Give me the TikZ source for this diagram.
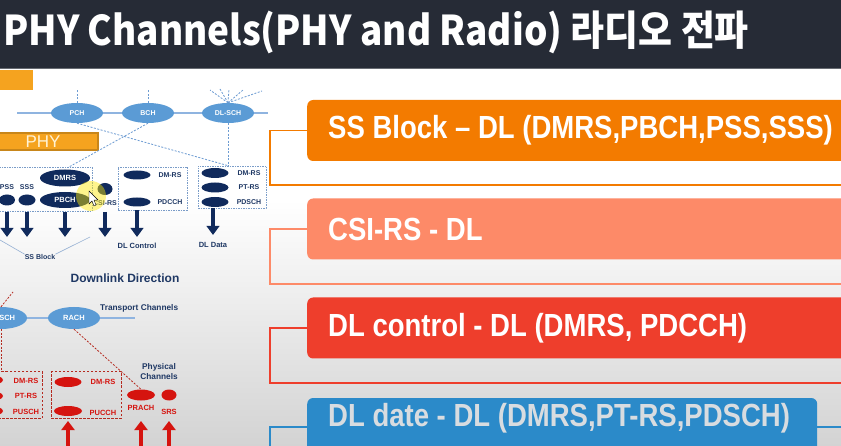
\documentclass[tikz,border=0pt]{standalone}
\usepackage{fontspec}
\setmainfont{Liberation Sans}
\newfontfamily\krfont{Noto Sans CJK KR}
\usetikzlibrary{shapes.geometric,arrows.meta}
\definecolor{hdr}{HTML}{262B36}
\definecolor{bgbot}{HTML}{D3D3D3}
\definecolor{phyor}{HTML}{F5A31F}
\definecolor{phyline}{HTML}{C8861A}
\definecolor{phytxt}{HTML}{FFF3D6}
\definecolor{trblue}{HTML}{5B9BD5}
\definecolor{trlinec}{HTML}{8FB4E0}
\definecolor{dlinkc}{HTML}{6C9BD2}
\definecolor{dlboxc}{HTML}{7A9CC8}
\definecolor{navy}{HTML}{102A5C}
\definecolor{navytxt}{HTML}{1F3864}
\definecolor{ulred}{HTML}{D5140F}
\definecolor{ulboxc}{HTML}{B52A20}
\definecolor{bxa}{HTML}{F37B00}
\definecolor{bxb}{HTML}{FD8A68}
\definecolor{bxc}{HTML}{EE3E2C}
\definecolor{bxd}{HTML}{2B8AC9}
\definecolor{bxdtxt}{HTML}{D8DCE0}
\newcommand{\cond}[1]{\scalebox{0.86}[1]{#1}}
\tikzset{
  trch/.style={ellipse, fill=trblue, text=white, inner sep=0pt, minimum width=52pt, minimum height=20pt, font=\bfseries\fontsize{7}{8}\selectfont},
  trline/.style={draw=trlinec, line width=1.5pt},
  dlell/.style 2 args={ellipse, fill=navy, inner sep=0pt, minimum width=#1, minimum height=#2, text=white, font=\bfseries\fontsize{7.5}{8}\selectfont},
  ulell/.style 2 args={ellipse, fill=ulred, inner sep=0pt, minimum width=#1, minimum height=#2},
  dlbl/.style={text=navytxt, inner sep=0pt, font=\bfseries\fontsize{7}{8}\selectfont},
  ulbl/.style={text=ulred, inner sep=0pt, font=\bfseries\fontsize{7.5}{8}\selectfont},
  dlbox/.style={draw=dlboxc, dash pattern=on 1.5pt off 1pt, line width=0.7pt, inner sep=0pt},
  ulbox/.style={draw=ulboxc, dash pattern=on 2.5pt off 1.5pt, line width=1pt, inner sep=0pt},
  dlink/.style={draw=dlinkc, dash pattern=on 2pt off 1.5pt, line width=0.8pt},
  ulink/.style={draw=ulboxc, dash pattern=on 2pt off 1.5pt, line width=0.8pt},
  sbrk/.style={draw=dlboxc!80, line width=0.6pt},
  dnarr/.style={draw=navy, line width=4.5pt, -{Triangle[width=12.5pt,length=9pt]}},
  uparr/.style={draw=ulred, line width=4.5pt, -{Triangle[width=13pt,length=9pt]}},
  rbox/.style={rounded corners=6pt, minimum height=61pt, inner sep=0pt, anchor=west},
  rtxt/.style={anchor=west, inner sep=0pt, text=white, font=\bfseries\fontsize{32}{36}\selectfont},
  brk/.style={line width=1.3pt}
}
\begin{document}
\begin{tikzpicture}[x=1pt, y=-1pt]
  \useasboundingbox (0,0) rectangle (841,446);
  \clip (0,0) rectangle (841,446);
  \fill[white] (0,70) rectangle (841,446);
  \shade[top color=white, bottom color=bgbot] (0,200) rectangle (841,446);
  \fill[hdr] (0,0) rectangle (841,68);
  \draw[hdr!70!white, line width=1pt] (0,68.5) -- (841,68.5);
  \node[anchor=west, text=white, inner sep=0pt, font=\krfont\bfseries\fontsize{41}{44}\selectfont] (title) at (3,32) {\scalebox{0.9}[1]{PHY Channels(PHY and Radio) 라디오 전파}};

  \fill[phyor] (0,70) rectangle (33,90);
  \node[draw=phyline, fill=phyor, line width=1.2pt, minimum width=110pt, minimum height=17pt, inner sep=0pt, text=phytxt, font=\fontsize{17}{18}\selectfont] (PHY) at (43,141.5) {PHY};

  \node[trch] (PCH) at (77,113) {PCH};
  \node[trch] (BCH) at (148,113) {BCH};
  \node[trch] (DLSCH) at (228,113) {DL-SCH};
  \coordinate (tlL) at (17,113);
  \coordinate (tlR) at (268,113);
  \coordinate (topin) at (0,90);
  \draw[trline] (tlL) -- (PCH);
  \draw[trline] (PCH) -- (BCH);
  \draw[trline] (BCH) -- (DLSCH);
  \draw[trline] (DLSCH) -- (tlR);
  \draw[dlink] (PCH.north) -- (PCH.north |- topin);
  \draw[dlink] (BCH.north) -- (BCH.north |- topin);
  \foreach \x/\y [count=\i] in {210/90, 220/89, 229/89, 243/90, 262/91}
    \coordinate (fan\i) at (\x,\y);
  \foreach \i in {1,...,5}
    \draw[dlink] (DLSCH.north) -- (fan\i);

  \node[dlbox, minimum width=100pt, minimum height=44pt] (SSB) at (42,189.5) {};
  \node[dlbox, minimum width=69pt, minimum height=43pt] (DLC) at (152.5,188.5) {};
  \node[dlbox, minimum width=68pt, minimum height=42pt] (DLD) at (232,187) {};

  \draw[dlink] (PCH.south) -- (DLSCH |- DLD.north);
  \draw[dlink] (DLSCH.south) -- (DLSCH |- DLD.north);
  \draw[dlink] (BCH.south) -- (68,167.5);

  \node[dlell={50pt}{17pt}] (DMRS) at (65,178) {DMRS};
  \node[dlell={50pt}{16pt}] (PBCH) at (65,200) {PBCH};
  \node[dlell={16pt}{11pt}] (PSSe) at (7,200) {};
  \node[dlell={17pt}{11pt}] (SSSe) at (27,200) {};
  \node[dlell={15pt}{12pt}] (CSIe) at (105,189) {};
  \node[dlbl] (PSSl) at (7,187) {PSS};
  \node[dlbl] (SSSl) at (27,187) {SSS};
  \node[dlbl] (CSIl) at (105,203) {CSI-RS};

  \node[dlell={27pt}{9pt}] (cDM) at (137,175) {};
  \node[dlell={27pt}{9pt}] (cPD) at (137,202) {};
  \node[dlbl] (cDMl) at (170,175) {DM-RS};
  \node[dlbl] (cPDl) at (170,202) {PDCCH};

  \node[dlell={27pt}{10pt}] (dDM) at (215,173) {};
  \node[dlell={27pt}{10pt}] (dPT) at (215,187.5) {};
  \node[dlell={27pt}{10pt}] (dPD) at (215,202) {};
  \node[dlbl] (dDMl) at (249,173) {DM-RS};
  \node[dlbl] (dPTl) at (249,187.5) {PT-RS};
  \node[dlbl] (dPDl) at (249,202) {PDSCH};

  \coordinate (dnE) at (0,237);
  \foreach \n in {PSSe,SSSe,PBCH,CSIe}
    \draw[dnarr] (\n |- SSB.south) -- (\n |- dnE);
  \draw[dnarr] (cPD |- DLC.south) -- (cPD |- dnE);
  \draw[dnarr] (213,208) -- (213,235);

  \node[dlbl, font=\bfseries\fontsize{7.5}{8}\selectfont] (DLCl) at (137,246) {DL Control};
  \node[dlbl, font=\bfseries\fontsize{7.5}{8}\selectfont] (DLDl) at (213,245) {DL Data};
  \node[dlbl] (SSl) at (40,257) {SS Block};
  \node[dlbl, font=\bfseries\fontsize{12}{14}\selectfont] (DLdir) at (125,278) {Downlink Direction};
  \coordinate (sbL) at (0,240);
  \coordinate (sbR) at (90,237);
  \draw[sbrk] (sbL) -- (SSl.north west);
  \draw[sbrk] (sbR) -- (SSl.north east);

  \fill[yellow!90!orange, opacity=0.45] (91,196) circle (15pt);
  \filldraw[fill=white, draw=black, line width=0.4pt] (89,191) -- (89,204) -- (92,201) -- (94,206) -- (96,205) -- (94,200) -- (98,200) -- cycle;

  \node[trch, minimum height=22pt, font=\bfseries\fontsize{7.5}{8}\selectfont] (ULSCH) at (1,318) {UL-SCH};
  \node[trch, minimum height=22pt, font=\bfseries\fontsize{7.5}{8}\selectfont] (RACH) at (74,318) {RACH};
  \coordinate (utL) at (-40,318);
  \coordinate (utR) at (135,318);
  \draw[trline] (utL) -- (ULSCH);
  \draw[trline] (ULSCH) -- (RACH);
  \draw[trline] (RACH) -- (utR);
  \node[dlbl, anchor=west, font=\bfseries\fontsize{8.3}{10}\selectfont] (TCl) at (100,308) {Transport Channels};

  \node[ulbox, minimum width=52pt, minimum height=46pt] (PUB) at (16,395) {};
  \node[ulbox, minimum width=70pt, minimum height=46pt] (PCB) at (86,395) {};
  \foreach \y/\n in {380/a, 396/b, 411/c}
    \node[ulell={26pt}{10pt}] (pu\n) at (-10,\y) {};
  \node[ulbl] (puDl) at (26,381) {DM-RS};
  \node[ulbl] (puPl) at (26,396) {PT-RS};
  \node[ulbl] (puSl) at (26,412) {PUSCH};
  \node[ulell={27pt}{10pt}] (pcDM) at (68,382) {};
  \node[ulell={28pt}{10pt}] (pcPU) at (68,411) {};
  \node[ulbl] (pcDl) at (103,382) {DM-RS};
  \node[ulbl] (pcPl) at (103,413) {PUCCH};
  \node[ulell={28pt}{11pt}] (PRACH) at (141,395) {};
  \node[ulell={15pt}{11pt}] (SRS) at (169,395) {};
  \node[ulbl] (PRACHl) at (141,408) {PRACH};
  \node[ulbl] (SRSl) at (169,412) {SRS};
  \node[dlbl, align=center, font=\bfseries\fontsize{8.3}{10}\selectfont] (PCl) at (159,372) {Physical\\Channels};

  \coordinate (ulin) at (13,292);
  \draw[ulink] (ULSCH.north) -- (ulin);
  \draw[ulink] (ULSCH.south) -- (ULSCH.south |- PUB.north);
  \draw[ulink] (RACH.south) -- (PRACH.north);

  \coordinate (upB) at (0,450);
  \coordinate (upT) at (0,421);
  \foreach \n in {pcPU,PRACH,SRS}
    \draw[uparr] (\n |- upB) -- (\n |- upT);

  \node[rbox, fill=bxa, minimum width=560pt] (B1) at (307,130.5) {};
  \node[rbox, fill=bxb, minimum width=560pt] (B2) at (307,229) {};
  \node[rbox, fill=bxc, minimum width=560pt] (B3) at (307,328) {};
  \node[rbox, fill=bxd, minimum width=510pt, minimum height=58pt] (B4) at (307,427) {};
  \node[rtxt] (T1) at (328,130) {\cond{SS Block – DL (DMRS,PBCH,PSS,SSS)}};
  \node[rtxt] (T2) at (328,229) {\cond{CSI-RS - DL}};
  \node[rtxt] (T3) at (328,328) {\cond{DL control - DL (DMRS, PDCCH)}};
  \node[rtxt, text=bxdtxt] (T4) at (328,418) {\cond{DL date - DL (DMRS,PT-RS,PDSCH)}};

  \coordinate (K) at (270,0);
  \coordinate (E1) at (845,185);
  \coordinate (E2) at (845,284);
  \coordinate (E3) at (845,383);
  \coordinate (E4) at (270,450);
  \coordinate (E4r) at (845,427);
  \draw[brk, draw=bxa] (B1.west) -- (B1.west -| K) |- (E1);
  \draw[brk, draw=bxb] (B2.west) -- (B2.west -| K) |- (E2);
  \draw[brk, draw=bxc] (B3.west) -- (B3.west -| K) |- (E3);
  \draw[brk, draw=bxd] (B4.west) -- (B4.west -| K) -- (E4);
  \draw[brk, draw=bxd] (B4.east) -- (E4r);
\end{tikzpicture}
\end{document}
